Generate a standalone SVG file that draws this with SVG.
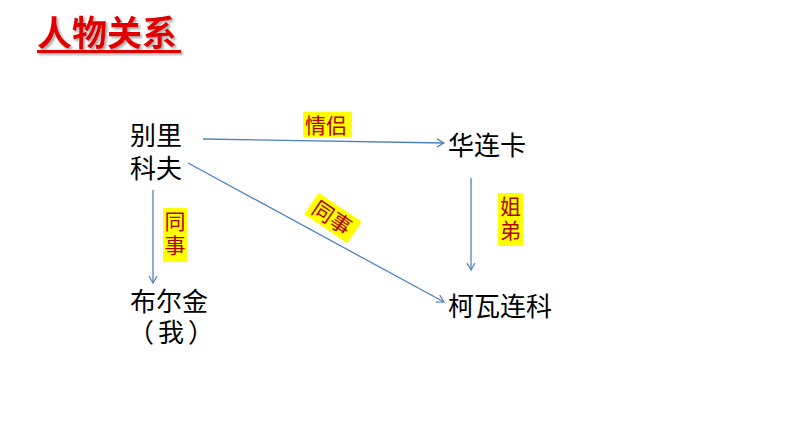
<svg xmlns="http://www.w3.org/2000/svg" width="794" height="447" viewBox="0 0 794 447">
<style>
.t{font-family:"Noto Sans CJK SC","Liberation Sans",sans-serif;font-size:26px;fill:#000}
.lb{font-family:"Noto Sans CJK SC",sans-serif;font-size:21px;fill:#B00000}
.v{writing-mode:vertical-rl;text-orientation:upright;letter-spacing:3px}
.bg{fill:#FFFF00}
.ln{stroke:#4F81BD;stroke-width:1.3;fill:none;marker-end:url(#ah)}
</style>
<defs>
<marker id="ah" markerWidth="10" markerHeight="10" refX="8" refY="5" orient="auto" markerUnits="userSpaceOnUse">
<path d="M1,1 L8,5 L1,9" fill="none" stroke="#4F81BD" stroke-width="1.2"/>
</marker>
<filter id="sh" x="-10%" y="-10%" width="130%" height="140%">
<feDropShadow dx="2" dy="2" stdDeviation="0.8" flood-color="#777" flood-opacity="0.6"/>
</filter>
</defs>
<rect width="794" height="447" fill="#fff"/>
<g id="title" filter="url(#sh)">
<text x="37" y="46" font-family="'Noto Sans CJK SC',sans-serif" font-size="35" font-weight="bold" fill="#E00000">人物关系</text>
<rect x="37" y="50" width="144" height="3" fill="#E00000"/>
</g>
<g id="connectors">
<line class="ln" x1="203" y1="139" x2="444" y2="143"/>
<line class="ln" x1="188" y1="163" x2="444" y2="302"/>
<line class="ln" x1="153" y1="190" x2="153" y2="283"/>
<line class="ln" x1="471" y1="178" x2="471" y2="270"/>
</g>
<g id="n1"><text class="t" x="130" y="145">别里<tspan x="130" dy="33">科夫</tspan></text></g>
<g id="n2"><text class="t" x="448" y="155">华连卡</text></g>
<g id="n3"><text class="t" x="130" y="311">布尔金<tspan x="128" dy="31" letter-spacing="4">（我）</tspan></text></g>
<g id="n4"><text class="t" x="448" y="316">柯瓦连科</text></g>
<g id="l1"><rect class="bg" x="303" y="112" width="49" height="25"/><text class="lb" x="305" y="133">情侣</text></g>
<g id="l2"><rect class="bg" x="163" y="208" width="24" height="54"/><text class="lb v" x="175" y="211">同事</text></g>
<g id="l3"><rect class="bg" x="498" y="193" width="25" height="53"/><text class="lb v" x="510.5" y="196">姐弟</text></g>
<g id="l4" transform="translate(333,218) rotate(34)"><rect class="bg" x="-26" y="-13" width="52" height="26"/><text class="lb" x="-22" y="8">同事</text></g>
</svg>
